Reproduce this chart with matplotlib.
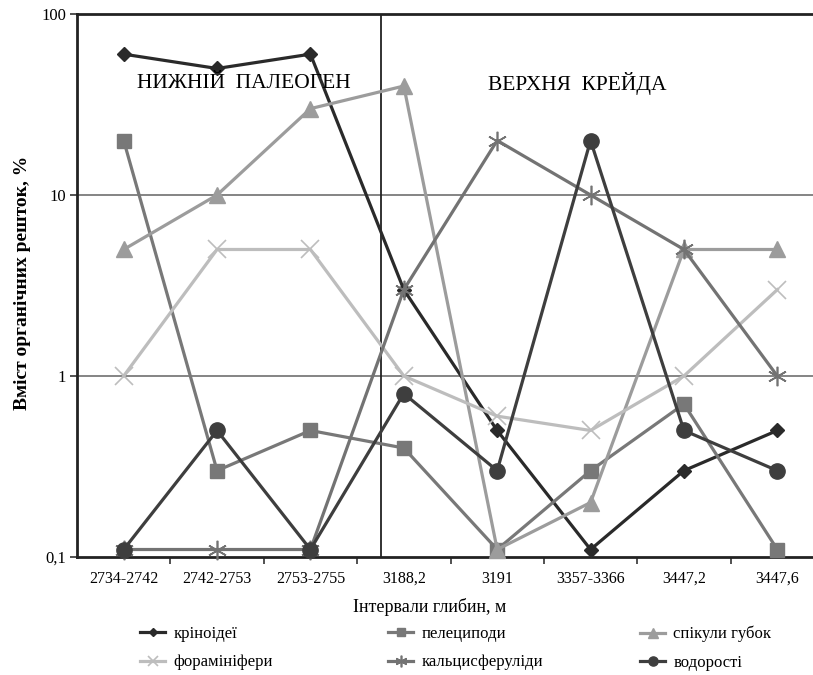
import matplotlib
matplotlib.use("Agg")
import matplotlib.pyplot as plt
from matplotlib.lines import Line2D

categories = ["2734-2742", "2742-2753", "2753-2755", "3188,2", "3191",
              "3357-3366", "3447,2", "3447,6"]
crinoids = [60, 50, 60, 3, 0.5, 0.11, 0.3, 0.5]
pelecypods = [20, 0.3, 0.5, 0.4, 0.11, 0.3, 0.7, 0.11]
spicules = [5, 10, 30, 40, 0.11, 0.2, 5, 5]
foraminifera = [1, 5, 5, 1, 0.6, 0.5, 1, 3]
calcispherulids = [0.11, 0.11, 0.11, 3, 20, 10, 5, 1]
algae = [0.11, 0.5, 0.11, 0.8, 0.3, 20, 0.5, 0.3]
series_names = ["кріноідеї", "пелециподи", "спікули губок",
                "форамініфери", "кальцисферуліди", "водорості"]
yticks = [0.1, 1, 10, 100]
yticklabels = ["0,1", "1", "10", "100"]

plt.rcParams['font.family'] = ['Liberation Serif', 'DejaVu Serif']

W, H = 813, 675
fig = plt.figure(figsize=(W / 100, H / 100), dpi=100)
x0, x1 = 77, 824
ytop, ybot = 14, 557
ax = fig.add_axes([x0 / W, (H - ybot) / H, (x1 - x0) / W, (ybot - ytop) / H])

xs = list(range(len(categories)))
styles = [
    dict(color="#2a2a2a", marker="D", ms=7.5, mec="#2a2a2a"),
    dict(color="#787878", marker="s", ms=10, mec="#787878"),
    dict(color="#9c9c9c", marker="^", ms=11, mec="#9c9c9c"),
    dict(color="#bdbdbd", marker="x", ms=13, mew=1.2),
    dict(color="#737373", marker=(6, 2, 0), ms=14, mew=1.2),
    dict(color="#3e3e3e", marker="o", ms=11, mec="#3e3e3e"),
]
data = [crinoids, pelecypods, spicules, foraminifera, calcispherulids, algae]
for vals, st, name in zip(data, styles, series_names):
    ax.plot(xs, vals, lw=2.3, label=name, clip_on=False, zorder=3, **st)

ax.set_yscale("log")
ax.set_ylim(0.1, 100)
ax.set_xlim(-0.5, 7.5)
ax.set_yticks(yticks)
ax.set_yticklabels(yticklabels)
ax.yaxis.set_minor_locator(matplotlib.ticker.NullLocator())
ax.set_xticks(xs)
ax.set_xticklabels(categories)
ax.set_xticks([i + 0.5 for i in range(7)], minor=True)
ax.tick_params(axis="x", which="major", length=0, pad=10, labelsize=11.5)
ax.tick_params(axis="x", which="minor", length=5, width=1.2, direction="out", color="#333333")
ax.tick_params(axis="y", which="major", length=5, width=1.2, direction="out", labelsize=12, pad=3, color="#333333")

for v in [1, 10]:
    ax.axhline(v, color="#6f6f6f", lw=1.2, zorder=1)
ax.axhline(100, color="#222222", lw=2, zorder=1, clip_on=False)
ax.axvline(2.76, color="#222222", lw=1.3, zorder=1)

for s in ["top", "right"]:
    ax.spines[s].set_visible(False)
for s in ["left", "bottom"]:
    ax.spines[s].set_linewidth(2)
    ax.spines[s].set_color("#222222")

ax.text(1.29, 41.5, "НИЖНІЙ  ПАЛЕОГЕН", ha="center", va="center", fontsize=15.5)
ax.text(4.86, 41.5, "ВЕРХНЯ  КРЕЙДА", ha="center", va="center", fontsize=15.5)

fig.text(23 / W, (H - 283) / H, "Вміст органічних решток, %", rotation=90,
         ha="center", va="center", fontsize=14, fontweight="bold")
fig.text(430 / W, (H - 607) / H, "Інтервали глибин, м", ha="center", va="center", fontsize=13)

cols = [(0, 3), (1, 4), (2, 5)]
col_x = [140, 388, 640]
for (a, b), cx in zip(cols, col_x):
    hs = []
    for i in (a, b):
        st = dict(styles[i])
        ms = st.pop("ms")
        hs.append(Line2D([], [], lw=2.3, ms=ms * 0.6, **st))
    fig.legend(hs, [series_names[a], series_names[b]], loc="upper left",
               bbox_to_anchor=(cx / W, (H - 626) / H), frameon=False,
               fontsize=12, handlelength=1.5, handletextpad=0.5,
               labelspacing=0.75, borderpad=0, borderaxespad=0)

fig.savefig("out.png", dpi=100)
